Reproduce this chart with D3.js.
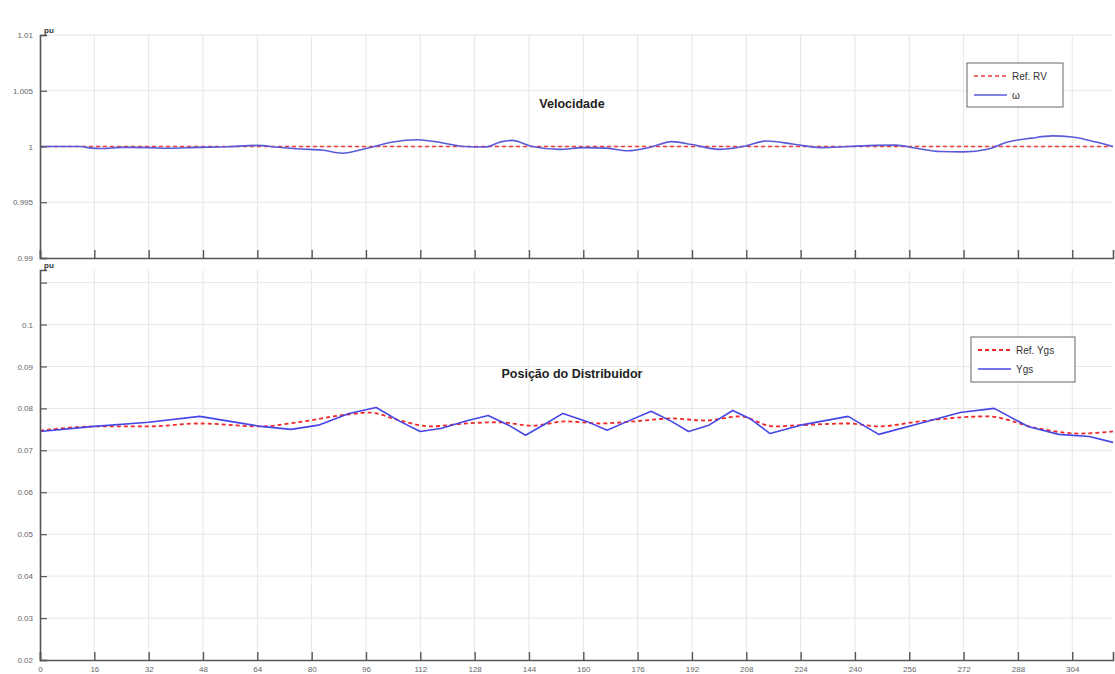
<!DOCTYPE html>
<html>
<head>
<meta charset="utf-8">
<script src="https://cdn.jsdelivr.net/npm/d3@7"></script>
<style>
  html, body { margin: 0; padding: 0; background: #fff; }
  svg { display: block; font-family: "Liberation Sans", Arial, sans-serif; }
</style>
</head>
<body>
<svg id="chart" width="1115" height="674"></svg>
<script>
// Time axis ticks (shared by both panels)
const xTicks = [0, 16, 32, 48, 64, 80, 96, 112, 128, 144, 160, 176, 192, 208, 224, 240, 256, 272, 288, 304];

// Speed panel
const speedTicks = [0.99, 0.995, 1, 1.005, 1.01];
const speedTickLabels = ["0.99", "0.995", "1", "1.005", "1.01"];
const speedTime = [0, 12, 15, 18, 24, 32, 38, 46, 55, 64, 70, 77, 83, 89, 96, 104, 111, 116, 125, 131,
  136, 139, 145, 153, 160, 167, 173, 180, 186, 192, 200, 207, 214, 222, 230, 238, 246, 252, 258, 265,
  272, 279, 285, 292, 298, 304, 311, 316];
const speedW = [1.0000, 1.0000, 0.99985, 0.99982, 0.99992, 0.99990, 0.99984, 0.99992, 0.99998, 1.00010,
  0.99993, 0.99977, 0.99968, 0.99940, 0.99982, 1.00040, 1.00060, 1.00045, 1.00000, 0.99995,
  1.00044, 1.00055, 1.00000, 0.99974, 0.99990, 0.99985, 0.99962, 0.99995, 1.00044, 1.00018,
  0.99974, 1.00000, 1.00050, 1.00020, 0.99990, 1.00000, 1.00010, 1.00012, 0.99985, 0.99955,
  0.99952, 0.99975, 1.00040, 1.00075, 1.00095, 1.00085, 1.00040, 1.00000];
const speedRefTime = [0, 316];
const speedRef = [1, 1];

// Gate position panel
const gateTicks = [0.02, 0.03, 0.04, 0.05, 0.06, 0.07, 0.08, 0.09, 0.1, 0.11];
const gateTickLabels = ["0.02", "0.03", "0.04", "0.05", "0.06", "0.07", "0.08", "0.09", "0.1", ""];
const gateTime = [0, 16, 32, 47, 56, 65, 74, 82, 91, 99, 106, 112, 118, 126, 132, 138, 143, 149, 154,
  161, 167, 173, 180, 186, 191, 197, 204, 209, 215, 224, 238, 247, 259, 271, 281, 291, 300, 309, 316];
const gateYgs = [0.0745, 0.0757, 0.0767, 0.0781, 0.0769, 0.0757, 0.0750, 0.0760, 0.0788, 0.0802,
  0.0769, 0.0745, 0.0752, 0.0771, 0.0783, 0.0760, 0.0736, 0.0764, 0.0788,
  0.0769, 0.0748, 0.0769, 0.0793, 0.0769, 0.0745, 0.0760, 0.0795, 0.0776, 0.0740,
  0.0760, 0.0781, 0.0738, 0.0764, 0.0790, 0.0800, 0.0757, 0.0738, 0.0733, 0.0719];
const gateRefTime = [0, 17, 32, 47, 65, 76, 91, 97, 106, 115, 125, 135, 145, 155, 165, 175, 186,
  196, 206, 216, 224, 238, 247, 259, 279, 294, 306, 316];
const gateRefYgs = [0.0747, 0.0757, 0.0757, 0.0764, 0.0757, 0.0767, 0.0786, 0.0790, 0.0771, 0.0757,
  0.0764, 0.0767, 0.0759, 0.0769, 0.0764, 0.0769, 0.0776, 0.0771, 0.0781, 0.0757, 0.0760,
  0.0764, 0.0757, 0.0769, 0.0781, 0.0752, 0.0740, 0.0745];

const svg = d3.select("#chart");
const X0 = 40, X1 = 1113;
const x = d3.scaleLinear().domain([0, 316]).range([X0, X1]);

const axisColor = "#555";
const gridColor = "#e6e6e6";

function drawPanel(opts) {
  const y = d3.scaleLinear().domain(opts.domain).range([opts.bottom, opts.top]);
  const g = svg.append("g");

  // grid
  g.append("g").selectAll("line.vg").data(xTicks.slice(1)).join("line")
    .attr("x1", d => x(d)).attr("x2", d => x(d))
    .attr("y1", opts.top).attr("y2", opts.bottom)
    .attr("stroke", gridColor).attr("stroke-width", 1);
  g.append("g").selectAll("line.hg").data(opts.ticks.filter(t => t !== opts.domain[0])).join("line")
    .attr("x1", X0).attr("x2", X1)
    .attr("y1", d => y(d)).attr("y2", d => y(d))
    .attr("stroke", gridColor).attr("stroke-width", 1);

  // series
  opts.series.forEach(s => {
    const line = d3.line().x(d => x(d[0])).y(d => y(d[1])).curve(s.curve || d3.curveLinear);
    g.append("path")
      .datum(s.t.map((t, i) => [t, s.v[i]]))
      .attr("d", line)
      .attr("fill", "none")
      .attr("stroke", s.color)
      .attr("stroke-width", s.width)
      .attr("stroke-dasharray", s.dash || null)
      .attr("stroke-linejoin", "round");
  });

  // x axis (ticks pointing inward)
  const xAxis = d3.axisBottom(x).tickValues(xTicks).tickSize(-8).tickPadding(6)
    .tickFormat(opts.xLabels ? d3.format("d") : () => "");
  const xa = g.append("g").attr("transform", `translate(0,${opts.bottom})`).call(xAxis);
  xa.select(".domain").attr("stroke", axisColor).attr("stroke-width", 1.6);
  xa.selectAll(".tick line").attr("stroke", axisColor).attr("stroke-width", 1.4);
  xa.selectAll(".tick text").attr("fill", "#666").attr("font-size", 8);

  // y axis
  const yAxis = d3.axisLeft(y).tickValues(opts.ticks).tickSize(-7).tickPadding(7)
    .tickFormat((d, i) => opts.tickLabels[i]);
  const ya = g.append("g").attr("transform", `translate(${X0},0)`).call(yAxis);
  ya.select(".domain").attr("stroke", axisColor).attr("stroke-width", 1.6);
  ya.selectAll(".tick line").attr("stroke", axisColor).attr("stroke-width", 1.2);
  ya.selectAll(".tick text").attr("fill", "#666").attr("font-size", 8);

  // unit label
  g.append("text").attr("x", X0 + 4).attr("y", opts.top - 2)
    .attr("font-size", 8).attr("font-weight", "bold").attr("fill", "#333").text("pu");

  // title
  g.append("text").attr("x", 572).attr("y", opts.titleY)
    .attr("text-anchor", "middle").attr("font-size", 12.5).attr("font-weight", "bold")
    .attr("fill", "#222").text(opts.title);

  // legend
  const L = opts.legend;
  const lg = g.append("g").attr("transform", `translate(${L.x},${L.y})`);
  lg.append("rect").attr("width", L.w).attr("height", L.h)
    .attr("fill", "#fff").attr("stroke", "#666").attr("stroke-width", 1);
  opts.series.forEach((s, i) => {
    const cy = 13 + i * 19;
    lg.append("line").attr("x1", 7).attr("x2", 40).attr("y1", cy).attr("y2", cy)
      .attr("stroke", s.color).attr("stroke-width", s.width).attr("stroke-dasharray", s.dash || null);
    lg.append("text").attr("x", 45).attr("y", cy + 4).attr("font-size", 10)
      .attr("fill", "#333").text(s.name);
  });
}

drawPanel({
  top: 35, bottom: 258, domain: [0.99, 1.01],
  ticks: speedTicks, tickLabels: speedTickLabels, xLabels: false,
  title: "Velocidade", titleY: 108,
  legend: { x: 967, y: 63, w: 96, h: 44 },
  series: [
    { name: "Ref. RV", t: speedRefTime, v: speedRef, color: "#f03a3a", width: 1.5, dash: "4,3" },
    { name: "ω", t: speedTime, v: speedW, color: "#5a5ad8", width: 1.6, curve: d3.curveMonotoneX }
  ]
});

drawPanel({
  top: 270, bottom: 660, domain: [0.02, 0.113],
  ticks: gateTicks, tickLabels: gateTickLabels, xLabels: true,
  title: "Posição do Distribuidor", titleY: 378,
  legend: { x: 971, y: 337, w: 104, h: 45 },
  series: [
    { name: "Ref. Ygs", t: gateRefTime, v: gateRefYgs, color: "#f02828", width: 1.8, dash: "4,3", curve: d3.curveMonotoneX },
    { name: "Ygs", t: gateTime, v: gateYgs, color: "#4646e6", width: 1.6 }
  ]
});
</script>
</body>
</html>
